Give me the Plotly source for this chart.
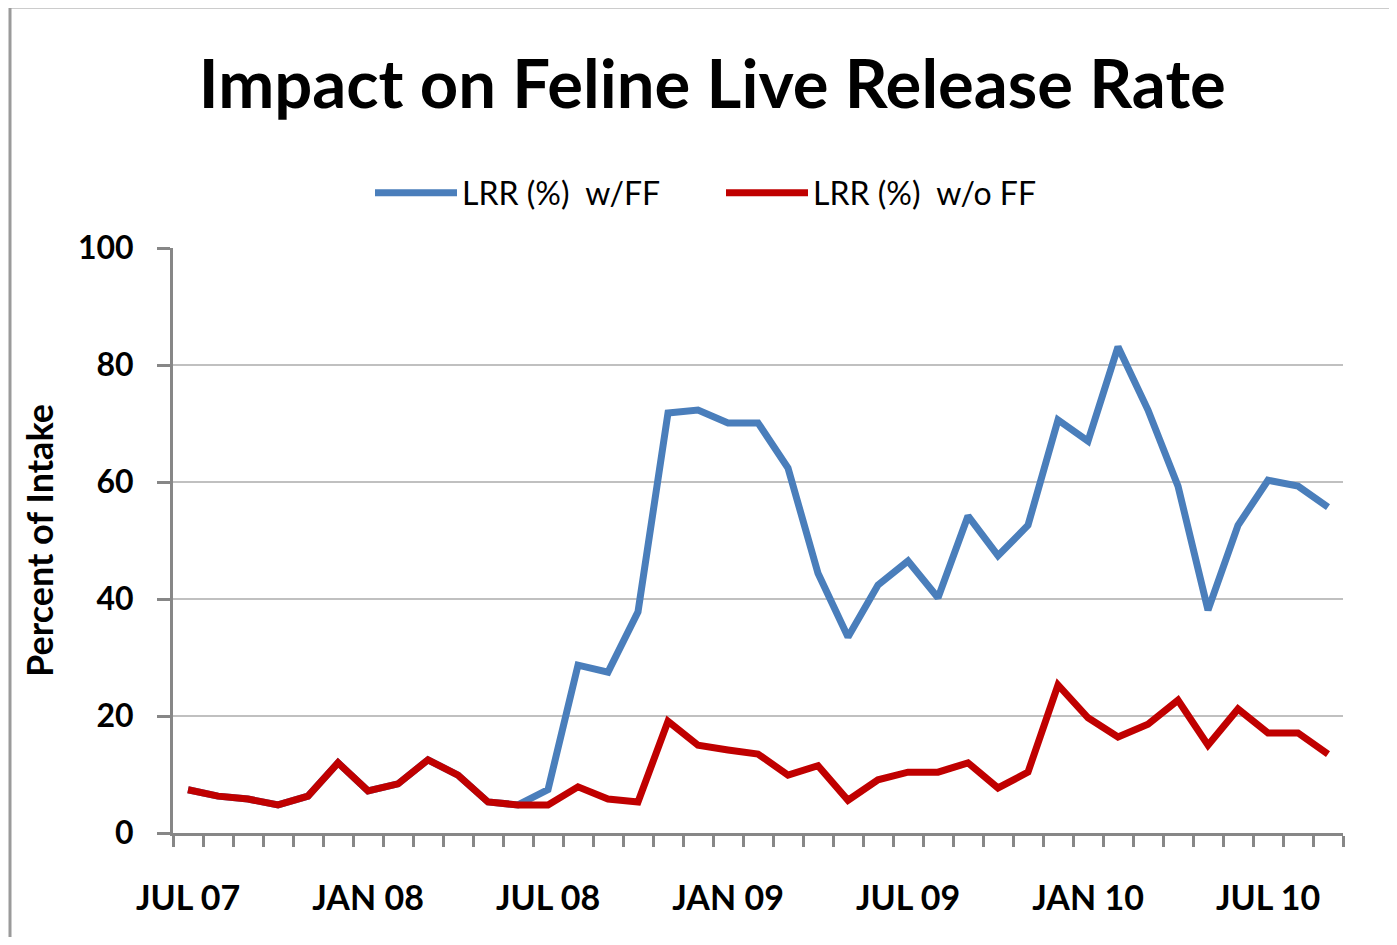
import plotly.graph_objects as go

months = ["JUL 07","AUG 07","SEP 07","OCT 07","NOV 07","DEC 07",
          "JAN 08","FEB 08","MAR 08","APR 08","MAY 08","JUN 08",
          "JUL 08","AUG 08","SEP 08","OCT 08","NOV 08","DEC 08",
          "JAN 09","FEB 09","MAR 09","APR 09","MAY 09","JUN 09",
          "JUL 09","AUG 09","SEP 09","OCT 09","NOV 09","DEC 09",
          "JAN 10","FEB 10","MAR 10","APR 10","MAY 10","JUN 10",
          "JUL 10","AUG 10","SEP 10"]

lrr_without_ff = [7.4, 6.3, 5.8, 4.8, 6.3, 12.0,
                  7.2, 8.4, 12.5, 9.9, 5.3, 4.8,
                  4.8, 7.9, 5.8, 5.3, 19.1, 15.0,
                  14.2, 13.5, 9.9, 11.5, 5.6, 9.1,
                  10.4, 10.4, 12.0, 7.7, 10.4, 25.3,
                  19.7, 16.4, 18.6, 22.7, 15.0, 21.2,
                  17.1, 17.1, 13.5]

lrr_with_ff = [7.4, 6.3, 5.8, 4.8, 6.3, 12.0,
               7.2, 8.4, 12.5, 9.9, 5.3, 4.8,
               7.4, 28.7, 27.5, 37.8, 71.8, 72.3,
               70.1, 70.1, 62.4, 44.4, 33.5, 42.4,
               46.5, 40.2, 54.2, 47.4, 52.6, 70.6,
               67.0, 83.1, 72.3, 59.3, 38.1, 52.6,
               60.3, 59.3, 55.7]

label_months = ["JUL 07", "JAN 08", "JUL 08", "JAN 09", "JUL 09", "JAN 10", "JUL 10"]

idx = list(range(len(months)))
FONT = "Lato"
AXIS = "#878787"

fig = go.Figure()
fig.add_trace(go.Scatter(x=idx, y=lrr_with_ff, mode="lines", name="LRR (%)  w/FF",
                         line=dict(color="#4a7ebb", width=7)))
fig.add_trace(go.Scatter(x=idx, y=lrr_without_ff, mode="lines", name="LRR (%)  w/o FF",
                         line=dict(color="#c00000", width=7)))

W, H = 1381, 929
fig.update_layout(
    width=W, height=H,
    paper_bgcolor="white", plot_bgcolor="white",
    margin=dict(l=165, r=46, t=240, b=104, autoexpand=False),
    title=dict(text="<b>Impact on Feline Live Release Rate</b>", x=0.51, xanchor="center",
               y=1 - 77 / H, yanchor="middle",
               font=dict(family=FONT, size=67, color="black")),
    legend=dict(orientation="h", x=(362 - 165) / 1170, xanchor="left",
                y=1 + (833 - 193) / 585 - 1, yanchor="middle",
                font=dict(family=FONT, size=32, color="black"), itemwidth=82,
                entrywidth=254, entrywidthmode="pixels",
                traceorder="normal"),
    showlegend=True,
)

fig.update_xaxes(
    range=[-0.5, len(months) - 0.5],
    tickmode="array",
    tickvals=[months.index(m) for m in label_months],
    ticktext=["<b>%s</b>" % m for m in label_months],
    ticks="", showgrid=False, zeroline=False,
    showline=True, linecolor=AXIS, linewidth=3,
    tickfont=dict(family=FONT, size=34, color="black"),
    ticklabelstandoff=33, automargin=False,
    minor=dict(tick0=-0.5, dtick=1, ticks="outside", ticklen=11,
               tickcolor=AXIS, tickwidth=3, showgrid=False),
)
fig.update_yaxes(
    range=[0, 100], dtick=20,
    tickvals=[0, 20, 40, 60, 80, 100],
    ticktext=["<b>%d</b>" % v for v in [0, 20, 40, 60, 80, 100]],
    ticks="outside", ticklen=13, tickcolor=AXIS, tickwidth=3,
    showgrid=True, gridcolor="#c0c0c0", gridwidth=2,
    zeroline=False, showline=True, linecolor=AXIS, linewidth=3,
    tickfont=dict(family=FONT, size=32, color="black"),
    ticklabelstandoff=17, automargin=False,
    title=dict(text="<b>Percent of Intake</b>", font=dict(family=FONT, size=36, color="black"),
               standoff=14),
)

fig.add_shape(type="rect", xref="paper", yref="paper",
              x0=(10 - 173) / 1170, x1=1.06, y0=-0.25, y1=(833 - 7) / 585,
              line=dict(color="#9a9a9a", width=3), fillcolor="rgba(0,0,0,0)", layer="below")

fig.write_html("out.html")
